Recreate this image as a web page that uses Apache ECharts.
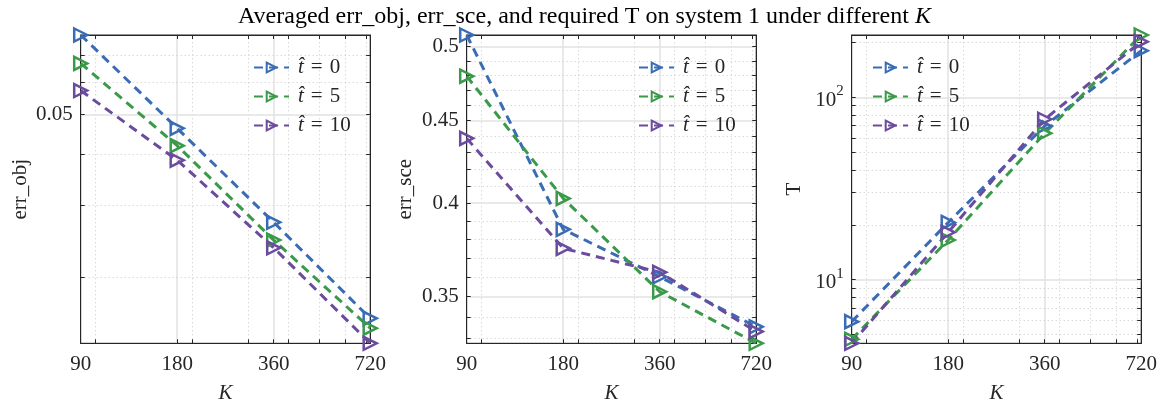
<!DOCTYPE html>
<html>
<head>
<meta charset="utf-8">
<script src="https://cdn.jsdelivr.net/npm/echarts@6/dist/echarts.min.js"></script>
<style>
  html, body { margin: 0; padding: 0; background: #fff; }
  #chart { width: 1169px; height: 404px; }
</style>
</head>
<body>
<div id="chart"></div>
<script>
// Horizon lengths K (log-spaced)
const K = [90, 180, 360, 720];
const tHat = ['0', '5', '10'];

// Averaged err_obj per t-hat
const errObj0 = [0.0784, 0.0463, 0.02725, 0.01585];
const errObj5 = [0.0668, 0.0420, 0.02465, 0.0150];
const errObj10 = [0.0573, 0.0387, 0.0236, 0.01377];

// Averaged err_sce per t-hat
const errSce0 = [0.5084, 0.3853, 0.3601, 0.3353];
const errSce5 = [0.4794, 0.4027, 0.3525, 0.3275];
const errSce10 = [0.4387, 0.3750, 0.3624, 0.3330];

// Required T per t-hat
const T0 = [5.89, 20.6, 69.6, 180.1];
const T5 = [4.71, 16.5, 63.5, 219.6];
const T10 = [4.48, 18.2, 75.8, 201.8];

// Tick labels and grid positions
const kTicks = [90, 180, 360, 720];
const kMajorGrid = [180, 360];
const kMinorGrid = [100, 200, 300, 400, 500, 600, 700];
const errObjTicks = [0.05];
const errObjMinor = [0.02, 0.03, 0.04, 0.06, 0.07];
const errSceTicks = [0.35, 0.4, 0.45, 0.5];
const errSceMinor = [0.33, 0.34, 0.36, 0.37, 0.38, 0.39, 0.41, 0.42, 0.43, 0.44, 0.46, 0.47, 0.48, 0.49];
const tTicks = [10, 100];
const tMinor = [5, 6, 7, 8, 9, 20, 30, 40, 50, 60, 70, 80, 90, 200];

const COLORS = ['#3a6cb5', '#3b9a4a', '#6a4b9d'];
const FONT = 'Liberation Serif';
const INK = '#262626';
const LABEL_SIZE = 21;

const panels = [
  { left: 80.7, yName: 'err_obj', nameGap: 50, data: [errObj0, errObj5, errObj10], ticks: errObjTicks, minor: errObjMinor, legendLeft: 248 },
  { left: 466.7, yName: 'err_sce', nameGap: 51, data: [errSce0, errSce5, errSce10], ticks: errSceTicks, minor: errSceMinor, legendLeft: 633 },
  { left: 851.7, yName: 'T', nameGap: 47, data: [T0, T5, T10], ticks: tTicks, minor: tMinor, legendLeft: 867, pow: true }
];
const PW = 289.5, TOP = 35, PH = 308.3;

const triRight = 'path://M0,0L10,5L0,10Z';

const grid = [], xAxis = [], yAxis = [], series = [], legend = [];

panels.forEach((p, i) => {
  const all = [].concat(...p.data);
  const yMin = Math.min(...all), yMax = Math.max(...all);
  grid.push({ left: p.left, top: TOP, width: PW, height: PH, outerBoundsMode: 'none', containLabel: false,
    show: true, borderColor: INK, borderWidth: 1, backgroundColor: '#fff' });

  const tickAll = p.ticks.concat(p.minor);
  const kTickAll = kTicks.concat(kMinorGrid);

  // bottom x axis with labels
  xAxis.push({
    type: 'log', gridIndex: i, min: K[0], max: K[K.length - 1],
    name: 'K', nameLocation: 'middle', nameGap: 40,
    nameTextStyle: { fontFamily: FONT, fontSize: LABEL_SIZE, fontStyle: 'italic', color: INK },
    axisLine: { lineStyle: { color: INK, width: 1 } },
    axisTick: { inside: true, length: 4, customValues: kTickAll, lineStyle: { color: INK } },
    axisLabel: { customValues: kTicks, margin: 11, fontFamily: FONT, fontSize: LABEL_SIZE, color: INK, formatter: v => String(Math.round(v)) },
    splitLine: { show: false }
  });
  // top mirror axis (ticks only)
  xAxis.push({
    type: 'log', gridIndex: i, position: 'top', min: K[0], max: K[K.length - 1],
    axisLine: { lineStyle: { color: INK, width: 1 } },
    axisTick: { inside: true, length: 4, customValues: kTickAll, lineStyle: { color: INK } },
    axisLabel: { show: false }, splitLine: { show: false }
  });

  const yLabel = p.pow
    ? { customValues: p.ticks, margin: 8, fontFamily: FONT, fontSize: LABEL_SIZE, color: INK,
        formatter: v => '{b|10}{s|' + Math.round(Math.log10(v)) + '}',
        rich: { b: { fontFamily: FONT, fontSize: LABEL_SIZE, color: INK, verticalAlign: 'bottom', lineHeight: 27 },
                s: { fontFamily: FONT, fontSize: 15, color: INK, verticalAlign: 'top', lineHeight: 27 } } }
    : { customValues: p.ticks, margin: 8, fontFamily: FONT, fontSize: LABEL_SIZE, color: INK, formatter: v => String(v) };

  yAxis.push({
    type: 'log', gridIndex: i, min: yMin, max: yMax,
    name: p.yName, nameLocation: 'middle', nameGap: p.nameGap, nameRotate: 90,
    nameTextStyle: { fontFamily: FONT, fontSize: LABEL_SIZE, color: INK },
    axisLine: { lineStyle: { color: INK, width: 1 } },
    axisTick: { inside: true, length: 4, customValues: tickAll, lineStyle: { color: INK } },
    axisLabel: yLabel,
    splitLine: { show: false }
  });
  yAxis.push({
    type: 'log', gridIndex: i, position: 'right', min: yMin, max: yMax,
    axisLine: { lineStyle: { color: INK, width: 1 } },
    axisTick: { inside: true, length: 4, customValues: tickAll, lineStyle: { color: INK } },
    axisLabel: { show: false }, splitLine: { show: false }
  });

  const xi = i * 2, yi = i * 2;

  // grid lines: solid majors, dotted minors
  const major = { color: '#e2e2e2', width: 1.5, type: 'solid' };
  const minorStyle = { color: '#c9c9c9', width: 1, type: [1, 3] };
  const lines = [];
  kMajorGrid.forEach(v => lines.push({ xAxis: v, lineStyle: major }));
  kMinorGrid.forEach(v => lines.push({ xAxis: v, lineStyle: minorStyle }));
  p.ticks.forEach(v => lines.push({ yAxis: v, lineStyle: major }));
  p.minor.forEach(v => lines.push({ yAxis: v, lineStyle: minorStyle }));
  series.push({
    type: 'line', xAxisIndex: xi, yAxisIndex: yi, data: [], silent: true, z: 0,
    markLine: { silent: true, symbol: 'none', z: 0, animation: false, label: { show: false },
      emphasis: { disabled: true }, data: lines }
  });

  p.data.forEach((vals, j) => {
    series.push({
      name: 't' + tHat[j],
      type: 'line', xAxisIndex: xi, yAxisIndex: yi, z: 3, clip: false,
      data: K.map((k, n) => [k, vals[n]]),
      symbol: triRight, symbolSize: 13,
      lineStyle: { color: COLORS[j], width: 3, type: [9, 6] },
      itemStyle: { color: 'rgba(255,255,255,0)', borderColor: COLORS[j], borderWidth: 2.5 },
      emphasis: { disabled: true }
    });
  });

  legend.push({
    left: p.legendLeft, top: 52, orient: 'vertical', itemGap: 8,
    itemWidth: 35, itemHeight: 12,
    data: tHat.map(t => 't' + t),
    formatter: name => '{t|t\u0302}\u2004=\u2004' + name.slice(1),
    textStyle: { fontFamily: FONT, fontSize: LABEL_SIZE, color: INK, lineHeight: 21,
      rich: { t: { fontFamily: FONT, fontSize: LABEL_SIZE, fontStyle: 'italic', color: INK, padding: [0, 0, 0, 4] } } },
    selectedMode: false
  });
});

const chart = echarts.init(document.getElementById('chart'), null, { renderer: 'canvas' });
chart.setOption({
  animation: false,
  backgroundColor: '#fff',
  title: {
    text: 'Averaged err_obj, err_sce, and required T on system 1 under different {i|K}',
    left: 'center', top: 0,
    textStyle: { fontFamily: FONT, fontSize: 24, fontWeight: 'normal', color: '#000',
      rich: { i: { fontFamily: FONT, fontSize: 24, fontStyle: 'italic', color: '#000' } } }
  },
  grid, xAxis, yAxis, series, legend
});
</script>
</body>
</html>
